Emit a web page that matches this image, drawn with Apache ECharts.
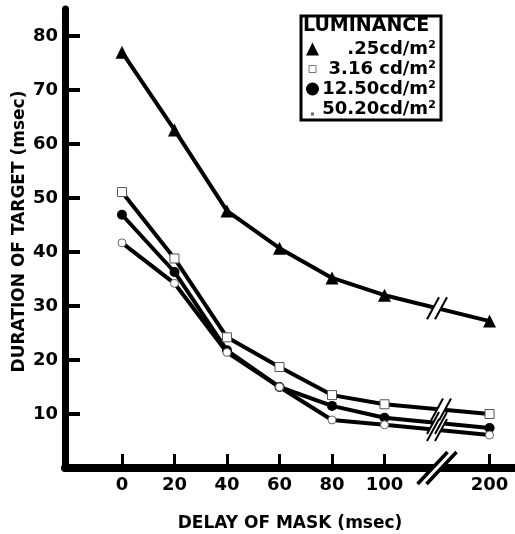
<!DOCTYPE html>
<html>
<head>
<meta charset="utf-8">
<script src="https://cdn.jsdelivr.net/npm/echarts@6/dist/echarts.min.js"></script>
<style>
html, body { margin: 0; padding: 0; background: #fff; }
#chart { width: 515px; height: 534px; }
</style>
</head>
<body>
<div id="chart"></div>
<script>
// delays in msec; 200 sits after the axis break, drawn at position 140
const delayLabels = ['0', '20', '40', '60', '80', '100', '200']
const delayPos = [0, 20, 40, 60, 80, 100, 140]
const yTicks = [10, 20, 30, 40, 50, 60, 70, 80]

const seriesNames = ['.25cd/m²', '3.16 cd/m²', '12.50cd/m²', '50.20cd/m²']
const lum025 = [77.0, 62.6, 47.6, 40.7, 35.2, 32.0, 27.2]
const lum316 = [51.1, 38.8, 24.2, 18.7, 13.5, 11.8, 10.0]
const lum1250 = [46.9, 36.3, 21.8, 15.0, 11.5, 9.3, 7.4]
const lum5020 = [41.7, 34.2, 21.4, 15.0, 8.9, 8.0, 6.1]

const font = 'DejaVu Sans'

function pairs(vals) {
  return vals.map((v, i) => [delayPos[i], v])
}

const chart = echarts.init(document.getElementById('chart'))

const lineBase = {
  type: 'line',
  lineStyle: { color: '#000', width: 4 },
  itemStyle: { color: '#000' },
  emphasis: { disabled: true },
  animation: false
}

chart.setOption({
  backgroundColor: '#fff',
  title: {
    text: 'LUMINANCE',
    left: 303,
    top: 17,
    padding: 0,
    textStyle: { fontFamily: font, fontSize: 19, fontWeight: 'bold', color: '#000' }
  },
  legend: {
    left: 301,
    top: 16,
    orient: 'vertical',
    itemWidth: 13,
    itemHeight: 13,
    itemGap: 2,
    padding: [24, 5, 2, 4],
    borderColor: '#000',
    borderWidth: 3,
    selectedMode: false,
    data: [
      { name: seriesNames[0], icon: 'triangle' },
      // small hollow square, kept small inside the icon box
      { name: seriesNames[1], icon: 'path://M0,0M13,13M3,3h7v7h-7z', itemStyle: { color: '#fff', borderColor: '#777', borderWidth: 1 } },
      { name: seriesNames[2], icon: 'circle' },
      { name: seriesNames[3], icon: 'path://M0,0M13,13M6,11h1v1h-1z', itemStyle: { color: '#999' } }
    ],
    formatter: name => '{a|' + name + '}',
    textStyle: {
      color: '#000',
      rich: {
        a: { fontFamily: font, fontSize: 18, fontWeight: 'bold', width: 112, align: 'right', lineHeight: 19 }
      }
    }
  },
  grid: { left: 65, right: 0, top: 9, bottom: 66, outerBoundsMode: 'none' },
  xAxis: {
    type: 'value',
    min: -21.7,
    max: 149.7,
    name: 'DELAY OF MASK (msec)',
    nameLocation: 'middle',
    nameGap: 47,
    nameMoveOverlap: false,
    nameTextStyle: { fontFamily: font, fontSize: 17, fontWeight: 'bold', color: '#000' },
    axisLine: { onZero: false, lineStyle: { color: '#000', width: 8 } },
    axisTick: { inside: true, length: 14, lineStyle: { color: '#000', width: 3 }, customValues: delayPos },
    axisLabel: {
      margin: 8,
      fontFamily: font, fontSize: 18, fontWeight: 'bold', color: '#000',
      customValues: delayPos,
      formatter: v => delayLabels[delayPos.indexOf(v)]
    },
    splitLine: { show: false }
  },
  yAxis: {
    type: 'value',
    min: 0,
    max: 85,
    name: 'DURATION OF TARGET (msec)',
    nameLocation: 'middle',
    nameGap: 37,
    nameMoveOverlap: false,
    nameTextStyle: { fontFamily: font, fontSize: 17, fontWeight: 'bold', color: '#000', padding: [0, 0, 0, 14] },
    axisLine: { onZero: false, lineStyle: { color: '#000', width: 7 } },
    axisTick: { inside: true, length: 15, lineStyle: { color: '#000', width: 4 }, customValues: yTicks },
    axisLabel: {
      margin: 7,
      fontFamily: font, fontSize: 18, fontWeight: 'bold', color: '#000',
      customValues: yTicks
    },
    splitLine: { show: false }
  },
  series: [
    Object.assign({}, lineBase, {
      name: seriesNames[0], data: pairs(lum025), symbol: 'triangle', symbolSize: 13
    }),
    Object.assign({}, lineBase, {
      name: seriesNames[1], data: pairs(lum316), symbol: 'rect', symbolSize: 9,
      itemStyle: { color: '#fff', borderColor: '#555', borderWidth: 1 }
    }),
    Object.assign({}, lineBase, {
      name: seriesNames[2], data: pairs(lum1250), symbol: 'circle', symbolSize: 10
    }),
    Object.assign({}, lineBase, {
      name: seriesNames[3], data: pairs(lum5020), symbol: 'circle', symbolSize: 8,
      itemStyle: { color: '#fff', borderColor: '#666', borderWidth: 1 }
    })
  ]
})

// break marks: on each line between 100 and 200, and across the x axis
const allVals = [lum025, lum316, lum1250, lum5020]
const breakShift = [0, 4, 0, 0]
const graphics = []

function slash(cx, cy, w, h, gap, lw) {
  const out = []
  out.push({
    type: 'polygon', silent: true, z: 50,
    shape: { points: [[cx - w - gap / 2, cy + h], [cx + w - gap / 2, cy - h], [cx + w + gap / 2, cy - h], [cx - w + gap / 2, cy + h]] },
    style: { fill: '#fff' }
  })
  ;[-gap / 2, gap / 2].forEach(off => {
    out.push({
      type: 'line', silent: true, z: 51,
      shape: { x1: cx - w + off, y1: cy + h, x2: cx + w + off, y2: cy - h },
      style: { stroke: '#000', lineWidth: lw }
    })
  })
  return out
}

allVals.forEach((vals, i) => {
  const a = chart.convertToPixel({ seriesIndex: i }, [100, vals[5]])
  const b = chart.convertToPixel({ seriesIndex: i }, [140, vals[6]])
  const cx = (a[0] + b[0]) / 2 + breakShift[i]
  const cy = (a[1] + b[1]) / 2 + (b[1] - a[1]) / (b[0] - a[0]) * breakShift[i]
  slash(cx, cy, 6, 11, 8, 2).forEach(g => graphics.push(g))
})

const axisPt = chart.convertToPixel({ xAxisIndex: 0, yAxisIndex: 0 }, [120, 0])
slash(axisPt[0], axisPt[1], 15, 16, 9, 3.5).forEach(g => graphics.push(g))

chart.setOption({ graphic: graphics })
</script>
</body>
</html>
